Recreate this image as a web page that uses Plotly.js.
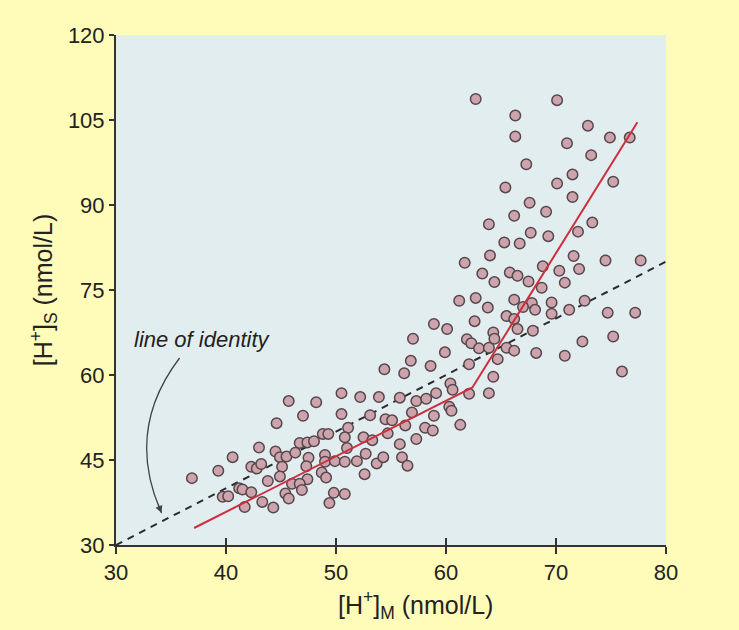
<!DOCTYPE html>
<html>
<head>
<meta charset="utf-8">
<script src="https://cdn.plot.ly/plotly-3.0.1.min.js"></script>
<style>
  html, body { margin: 0; padding: 0; background: #fffcb9; }
  #chart { width: 739px; height: 630px; }
</style>
</head>
<body>
<div id="chart"></div>
<script>
// Measured [H+]M (x) and [H+]S (y), nmol/L
const hM = [
  62.7, 70.1, 66.3, 66.3, 72.9, 74.9, 76.7, 71.0, 73.2, 67.3,
  71.5, 70.1, 65.4, 75.2, 71.5, 67.6, 66.2, 69.1, 63.9, 73.3,
  72.0, 67.7, 69.3, 65.3, 66.7, 64.0, 71.6, 61.7, 74.5, 77.7,
  68.8, 72.1, 63.3, 65.8, 66.5, 70.3, 64.4, 67.5, 70.8, 68.7,
  61.2, 62.7, 66.2, 67.8, 69.6, 72.6, 63.8, 67.0, 68.1, 71.2,
  74.7, 77.2, 69.6, 65.5, 62.6, 58.9, 66.2, 60.1, 66.5, 67.9,
  57.0, 61.9, 62.3, 64.3, 64.4, 63.0, 63.9, 65.5, 66.2, 68.2,
  70.8, 72.4, 75.2, 76.0, 59.9, 56.8, 56.2, 58.6, 62.1, 64.7,
  64.3, 60.4, 60.6, 62.1, 63.9, 55.8, 57.3, 58.2, 59.1, 56.9,
  60.3, 60.5, 58.9, 54.5, 55.1, 54.7, 56.3, 58.1, 58.8, 61.3,
  57.3, 55.8, 56.0, 56.5, 54.4, 50.5, 52.2, 53.9, 45.7, 48.2,
  50.5, 47.0, 53.1, 44.6, 51.1, 48.8, 49.3, 46.7, 47.4, 48.0,
  43.0, 44.5, 44.9, 45.5, 46.3, 47.5, 49.0, 40.6, 50.8, 51.0,
  52.5, 53.3, 42.3, 42.8, 43.2, 45.1, 47.3, 49.0, 49.9, 50.8,
  51.9, 52.7, 53.7, 54.3, 39.3, 36.9, 44.9, 43.8, 47.4, 48.7,
  49.1, 52.6, 41.2, 41.5, 46.0, 46.7, 42.3, 46.9, 39.7, 40.2,
  45.4, 45.7, 49.8, 50.8, 41.7, 43.3, 44.3, 49.4
];
const hS = [
  108.7, 108.5, 105.8, 102.1, 104.0, 101.9, 101.9, 100.9, 98.8, 97.2,
  95.4, 93.8, 93.1, 94.1, 91.4, 90.4, 88.1, 88.8, 86.6, 86.9,
  85.3, 85.1, 84.5, 83.4, 83.2, 81.1, 81.0, 79.8, 80.2, 80.2,
  79.2, 78.7, 77.9, 78.1, 77.5, 78.4, 76.4, 76.5, 76.3, 75.4,
  73.1, 73.6, 73.3, 72.7, 72.8, 73.1, 71.9, 72.0, 71.5, 71.5,
  71.0, 71.0, 70.8, 70.4, 69.5, 69.0, 69.9, 68.1, 68.1, 67.8,
  66.4, 66.3, 65.6, 67.5, 66.4, 64.7, 64.8, 64.8, 64.3, 63.9,
  63.4, 65.9, 66.8, 60.6, 64.0, 62.5, 60.3, 61.6, 61.9, 62.8,
  59.7, 58.5, 57.4, 56.7, 56.8, 56.0, 55.4, 55.8, 56.8, 53.4,
  54.4, 53.7, 52.8, 52.2, 52.0, 49.7, 51.1, 50.7, 50.2, 51.2,
  48.7, 47.8, 45.5, 44.0, 61.0, 56.8, 56.1, 56.1, 55.4, 55.2,
  53.1, 52.8, 52.9, 51.5, 50.7, 49.6, 49.6, 48.0, 48.1, 48.3,
  47.2, 46.5, 45.5, 45.6, 46.3, 45.4, 45.9, 45.5, 49.0, 47.1,
  49.0, 48.5, 43.8, 43.5, 44.3, 43.8, 43.9, 44.7, 44.8, 44.7,
  44.8, 46.1, 44.4, 45.5, 43.1, 41.8, 42.1, 41.3, 41.6, 42.8,
  41.9, 42.5, 40.0, 39.8, 40.8, 40.8, 39.3, 39.7, 38.5, 38.6,
  39.1, 38.2, 39.2, 39.0, 36.7, 37.6, 36.6, 37.4
];
// Line of identity
const identityX = [30, 80];
const identityY = [30, 80];
// Fitted piecewise regression line
const fitX = [37.1, 62.4, 77.4];
const fitY = [33.0, 57.8, 104.6];

const xTicks = [30, 40, 50, 60, 70, 80];
const yTicks = [30, 45, 60, 75, 90, 105, 120];

const FONT = 'Liberation Sans, Arial, Helvetica, sans-serif';

const traces = [
  {
    x: identityX, y: identityY, type: 'scatter', mode: 'lines',
    line: { color: '#2b2b2b', width: 2, dash: '7px,6px' },
    hoverinfo: 'skip', showlegend: false
  },
  {
    x: hM, y: hS, type: 'scatter', mode: 'markers',
    marker: { size: 10.5, color: '#cda4ad', line: { color: '#56474b', width: 1.5 } },
    showlegend: false
  },
  {
    x: fitX, y: fitY, type: 'scatter', mode: 'lines',
    line: { color: '#cf2f3c', width: 2 },
    hoverinfo: 'skip', showlegend: false
  },
  // invisible trace so the overlaid tick axis (inner half of crossing ticks) renders
  { x: [30], y: [30], xaxis: 'x2', type: 'scatter', mode: 'markers',
    marker: { opacity: 0 }, hoverinfo: 'skip', showlegend: false }
];

const layout = {
  width: 739, height: 630,
  paper_bgcolor: '#fffcb9',
  plot_bgcolor: '#e2edf0',
  margin: { l: 116, r: 73, t: 35, b: 85 },
  font: { family: FONT, size: 22, color: '#222' },
  showlegend: false,
  xaxis: {
    range: [30, 80], tickvals: xTicks, ticktext: xTicks.map(String),
    showgrid: false, zeroline: false,
    showline: true, linecolor: '#333', linewidth: 2,
    ticks: 'outside', ticklen: 7, tickwidth: 2, tickcolor: '#333',
    tickfont: { size: 22, family: FONT, color: '#222' }
  },
  xaxis2: {
    overlaying: 'x', matches: 'x', range: [30, 80], tickvals: xTicks,
    showticklabels: false, showgrid: false, zeroline: false, showline: false,
    ticks: 'inside', ticklen: 7, tickwidth: 2, tickcolor: '#333', side: 'bottom'
  },
  yaxis: {
    range: [30, 120], tickvals: yTicks, ticktext: yTicks.map(String),
    showgrid: false, zeroline: false,
    showline: true, linecolor: '#333', linewidth: 2,
    ticks: 'outside', ticklen: 5, tickwidth: 2, tickcolor: '#333',
    tickfont: { size: 22, family: FONT, color: '#222' },
    title: { text: '[H<sup>+</sup>]<sub>S</sub> (nmol/L)', font: { size: 25, family: FONT, color: '#222' }, standoff: 8 }
  },
  shapes: [
    {
      type: 'path', xref: 'x', yref: 'y',
      path: 'M 35.78,63.0 Q 30.77,50.2 34.14,35.65',
      line: { color: '#444', width: 1.3 }
    }
  ],
  annotations: [
    {
      x: 0.545, y: -0.118, xref: 'paper', yref: 'paper', xanchor: 'center', yanchor: 'middle',
      text: '[H<sup>+</sup>]<sub>M</sub> (nmol/L)', showarrow: false,
      font: { size: 25, family: FONT, color: '#222' }
    },
    {
      x: 37.9, y: 66.2, xref: 'x', yref: 'y', text: 'line of identity',
      showarrow: false, font: { size: 22, family: FONT, color: '#222', style: 'italic' }
    },
    {
      x: 34.14, y: 35.65, xref: 'x', yref: 'y', text: '',
      showarrow: true, arrowhead: 2, arrowsize: 1.1, arrowwidth: 1.3, arrowcolor: '#444',
      ax: -4, ay: -10
    }
  ]
};

Plotly.newPlot('chart', traces, layout, { displayModeBar: false, staticPlot: true });
</script>
</body>
</html>
